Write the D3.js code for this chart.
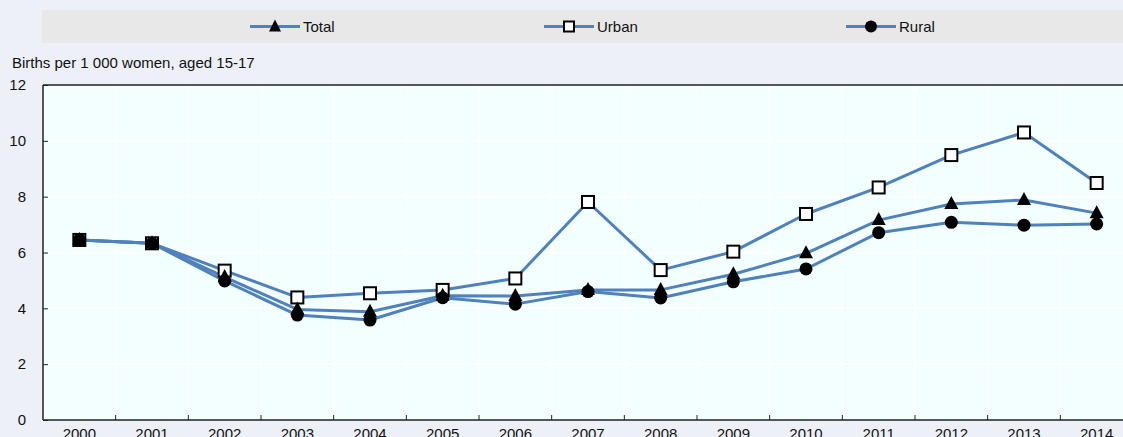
<!DOCTYPE html>
<html>
<head>
<meta charset="utf-8">
<script src="https://cdn.jsdelivr.net/npm/d3@7"></script>
<style>
  html, body { margin: 0; padding: 0; background: #EDF0F7; overflow: hidden; }
  svg { display: block; font-family: "Liberation Sans", Arial, sans-serif; }
</style>
</head>
<body>
<svg id="chart" width="1123" height="437"></svg>
<script>
const years = ["2000","2001","2002","2003","2004","2005","2006","2007","2008","2009","2010","2011","2012","2013","2014"];
const total = [6.45, 6.33, 5.12, 3.96, 3.88, 4.45, 4.44, 4.66, 4.66, 5.22, 5.97, 7.16, 7.74, 7.88, 7.41];
const urban = [6.45, 6.33, 5.35, 4.39, 4.54, 4.66, 5.07, 7.81, 5.37, 6.03, 7.38, 8.33, 9.49, 10.30, 8.49];
const rural = [6.45, 6.33, 4.98, 3.76, 3.58, 4.38, 4.15, 4.60, 4.37, 4.95, 5.41, 6.71, 7.08, 6.98, 7.02];
const yTicks = [0, 2, 4, 6, 8, 10, 12];
const seriesNames = ["Total", "Urban", "Rural"];
const yTitle = "Births per 1 000 women, aged 15-17";

const W = 1123, H = 437;
const plot = { left: 43, right: 1133, top: 85, bottom: 420 };
const lineColor = "#4F81BD";
const FS = 15;

const svg = d3.select("#chart");

// legend box
svg.append("rect").attr("x", 42).attr("y", 10).attr("width", 1100).attr("height", 33).attr("fill", "#E8E8E8");

const x = d3.scaleBand().domain(years).range([plot.left, plot.right]).padding(0);
const y = d3.scaleLinear().domain([0, 12]).range([plot.bottom, plot.top]);

// plot background
svg.append("rect").attr("x", plot.left).attr("y", plot.top)
  .attr("width", plot.right - plot.left).attr("height", plot.bottom - plot.top)
  .attr("fill", "#F3FFFF");

// gridlines
const g = svg.append("g");
g.selectAll("line.hg").data(yTicks.filter(d => d > 0 && d < 12)).enter().append("line")
  .attr("x1", plot.left).attr("x2", plot.right)
  .attr("y1", d => y(d)).attr("y2", d => y(d))
  .attr("stroke", "#FFFFFF").attr("stroke-width", 1.5);
g.selectAll("line.vg").data(years.slice(1)).enter().append("line")
  .attr("x1", d => x(d)).attr("x2", d => x(d))
  .attr("y1", plot.top).attr("y2", plot.bottom)
  .attr("stroke", "#FFFFFF").attr("stroke-width", 1.5);

// axes
const yAxis = d3.axisLeft(y).tickValues(yTicks).tickSize(-5).tickPadding(17).tickFormat(d3.format("d"));
const yg = svg.append("g").attr("transform", `translate(${plot.left},0)`).call(yAxis);
yg.select(".domain").remove();
yg.selectAll(".tick line").attr("stroke", "#222").attr("stroke-width", 1);
yg.selectAll(".tick text").attr("font-size", FS).attr("fill", "#111").attr("font-family", "Liberation Sans, Arial, sans-serif");

const xAxis = d3.axisBottom(x).tickSize(0).tickPadding(8);
const xg = svg.append("g").attr("transform", `translate(0,${plot.bottom})`).call(xAxis);
xg.select(".domain").remove();
xg.selectAll(".tick text").attr("font-size", FS).attr("fill", "#111").attr("font-family", "Liberation Sans, Arial, sans-serif");
// x ticks at band boundaries, pointing inward
svg.append("g").selectAll("line").data(years.slice(1)).enter().append("line")
  .attr("x1", d => x(d)).attr("x2", d => x(d))
  .attr("y1", plot.bottom).attr("y2", plot.bottom - 5)
  .attr("stroke", "#222").attr("stroke-width", 1);

// frame lines
svg.append("line").attr("x1", plot.left).attr("x2", plot.right).attr("y1", plot.top).attr("y2", plot.top)
  .attr("stroke", "#222").attr("stroke-width", 1.5);
svg.append("line").attr("x1", plot.left).attr("x2", plot.right).attr("y1", plot.bottom).attr("y2", plot.bottom)
  .attr("stroke", "#222").attr("stroke-width", 1.5);
svg.append("line").attr("x1", plot.left).attr("x2", plot.left).attr("y1", plot.top).attr("y2", plot.bottom)
  .attr("stroke", "#222").attr("stroke-width", 1.5);

// y title
svg.append("text").attr("x", 12).attr("y", 68).attr("font-size", FS).attr("fill", "#111").text(yTitle);

const cx = d => x(d) + x.bandwidth() / 2;
const line = d3.line().x((d, i) => cx(years[i])).y(d => y(d));

const series = [
  { name: seriesNames[1], values: urban, marker: "square" },
  { name: seriesNames[0], values: total, marker: "triangle" },
  { name: seriesNames[2], values: rural, marker: "circle" }
];

series.forEach(s => {
  svg.append("path").datum(s.values).attr("d", line)
    .attr("fill", "none").attr("stroke", lineColor).attr("stroke-width", 3).attr("stroke-linejoin", "round");
});

function drawMarker(sel, type, px, py) {
  if (type === "square") {
    sel.append("rect").attr("x", px - 6).attr("y", py - 6).attr("width", 12).attr("height", 12)
      .attr("fill", "#FFFFFF").attr("stroke", "#000").attr("stroke-width", 2);
  } else if (type === "triangle") {
    sel.append("path").attr("d", `M${px},${py - 8} L${px + 7},${py + 5} L${px - 7},${py + 5} Z`).attr("fill", "#000");
  } else {
    sel.append("circle").attr("cx", px).attr("cy", py).attr("r", 6.5).attr("fill", "#000");
  }
}

series.forEach(s => {
  const mg = svg.append("g");
  s.values.forEach((v, i) => drawMarker(mg, s.marker, cx(years[i]), y(v)));
});

// legend
const legendItems = [
  { name: seriesNames[0], marker: "triangle", x0: 250 },
  { name: seriesNames[1], marker: "square", x0: 544 },
  { name: seriesNames[2], marker: "circle", x0: 846 }
];
legendItems.forEach(it => {
  const lg = svg.append("g");
  lg.append("line").attr("x1", it.x0).attr("x2", it.x0 + 50).attr("y1", 26.5).attr("y2", 26.5)
    .attr("stroke", lineColor).attr("stroke-width", 3);
  if (it.marker === "square") {
    lg.append("rect").attr("x", it.x0 + 25 - 5).attr("y", 26.5 - 5).attr("width", 10).attr("height", 10)
      .attr("fill", "#fff").attr("stroke", "#000").attr("stroke-width", 2);
  } else if (it.marker === "triangle") {
    lg.append("path").attr("d", `M${it.x0 + 25},${26.5 - 7} L${it.x0 + 31},${26.5 + 5} L${it.x0 + 19},${26.5 + 5} Z`).attr("fill", "#000");
  } else {
    lg.append("circle").attr("cx", it.x0 + 25).attr("cy", 26.5).attr("r", 6).attr("fill", "#000");
  }
  lg.append("text").attr("x", it.x0 + 53).attr("y", 32).attr("font-size", FS).attr("fill", "#111").text(it.name);
});
</script>
</body>
</html>
